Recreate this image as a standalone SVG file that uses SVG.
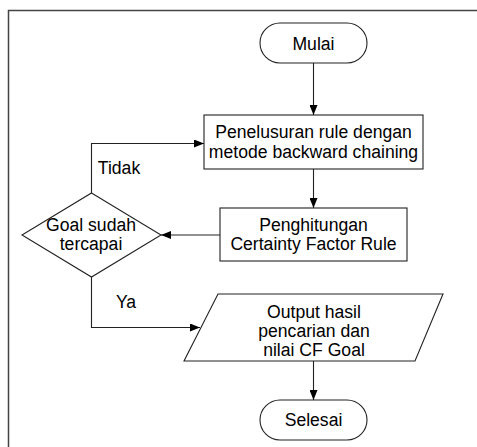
<svg xmlns="http://www.w3.org/2000/svg" width="477" height="447" viewBox="0 0 477 447">
<style>
.s{fill:#fff;stroke:#222;stroke-width:1.1}
.c{fill:none;stroke:#222;stroke-width:1.1}
text{font-family:"Liberation Sans",Arial,sans-serif;font-size:17.6px;fill:#000;text-anchor:middle}
</style>
<defs>
<marker id="a" markerWidth="10" markerHeight="8" refX="10" refY="4" orient="auto" markerUnits="userSpaceOnUse">
<path d="M0,0 L10,4 L0,8 Z" fill="#000"/>
</marker>
</defs>
<rect width="477" height="447" fill="#fff"/>
<path d="M8.5,447 V10.5 H477" fill="none" stroke="#444" stroke-width="1.5"/>
<g id="connectors">
<path class="c" d="M313.5,63 V115" marker-end="url(#a)"/>
<path class="c" d="M313.5,169 V208" marker-end="url(#a)"/>
<path class="c" d="M220,235 H161" marker-end="url(#a)"/>
<path class="c" d="M91.5,193 V143.5 H204" marker-end="url(#a)"/>
<path class="c" d="M91.5,277 V327.5 H200" marker-end="url(#a)"/>
<path class="c" d="M313.5,361 V400" marker-end="url(#a)"/>
<text x="119" y="174">Tidak</text>
<text x="126" y="308">Ya</text>
</g>
<g id="mulai">
<rect class="s" x="260" y="23" width="107" height="40" rx="20" ry="20"/>
<text x="313.5" y="50">Mulai</text>
</g>
<g id="penelusuran">
<rect class="s" x="204" y="115" width="219" height="54"/>
<text x="313.5" y="138">Penelusuran rule dengan</text>
<text x="313.5" y="158">metode backward chaining</text>
</g>
<g id="penghitungan">
<rect class="s" x="220" y="208" width="187" height="53"/>
<text x="313.5" y="231">Penghitungan</text>
<text x="313.5" y="250">Certainty Factor Rule</text>
</g>
<g id="goal">
<path class="s" d="M91.5,193 L161,235 L91.5,277 L22,235 Z"/>
<text x="91" y="231">Goal sudah</text>
<text x="91" y="250">tercapai</text>
</g>
<g id="output">
<path class="s" d="M218,294 H443 L415,361 H184 Z"/>
<text x="314" y="318">Output hasil</text>
<text x="314" y="337">pencarian dan</text>
<text x="314" y="356">nilai CF Goal</text>
</g>
<g id="selesai">
<rect class="s" x="260" y="400" width="107" height="40" rx="20" ry="20"/>
<text x="313.5" y="426">Selesai</text>
</g>
</svg>
